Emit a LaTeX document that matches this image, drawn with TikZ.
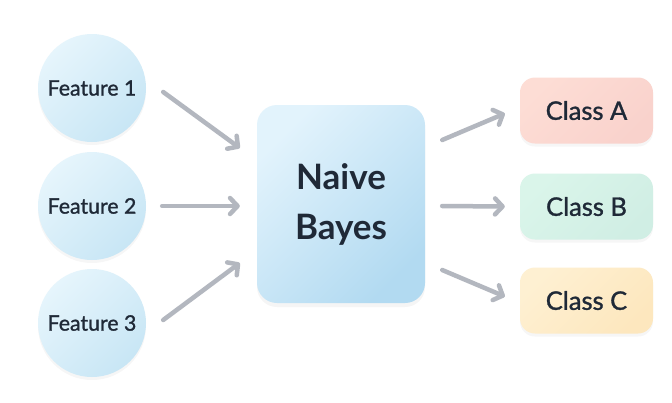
\documentclass[tikz,border=0pt]{standalone}
\usepackage{fontspec}
\setmainfont{Lato}
\newfontfamily\medfont[FakeBold=1.2]{Lato}
\usetikzlibrary{arrows.meta,shadows,calc}
\definecolor{ink}{HTML}{1F2937}
\definecolor{arrowgray}{HTML}{B3B7BF}
\definecolor{circA}{HTML}{E6F5FC}
\definecolor{circB}{HTML}{C8E6F5}
\definecolor{boxA}{HTML}{E2F3FC}
\definecolor{boxB}{HTML}{B2DAF1}
\definecolor{clsAa}{HTML}{FDDDD5}
\definecolor{clsAb}{HTML}{F9D2CC}
\definecolor{clsBa}{HTML}{DAF5EA}
\definecolor{clsBb}{HTML}{D0EEE4}
\definecolor{clsCa}{HTML}{FEF0D2}
\definecolor{clsCb}{HTML}{FDE7BE}
\tikzset{
  feat/.style={circle, minimum size=108pt, inner sep=0pt,
    left color=circA, right color=circB, shading angle=45,
    drop shadow={opacity=0.07, shadow xshift=0pt, shadow yshift=-3pt},
    font=\medfont\fontsize{21.3}{24}\selectfont, text=ink},
  core/.style={rounded corners=20pt, minimum width=168pt, minimum height=198pt, inner sep=0pt,
    left color=boxA, right color=boxB, shading angle=45,
    drop shadow={opacity=0.08, shadow xshift=0pt, shadow yshift=-4pt},
    font=\bfseries\fontsize{35}{50}\selectfont, text=ink, align=center},
  cls/.style={rounded corners=15pt, minimum width=133pt, minimum height=66pt, inner sep=0pt,
    drop shadow={opacity=0.07, shadow xshift=0pt, shadow yshift=-3pt},
    font=\medfont\fontsize{25.5}{28}\selectfont, text=ink},
  arr/.style={draw=arrowgray, line width=4.5pt, line cap=round, line join=round,
    -{Straight Barb[length=7.5pt, width=16pt, line cap=round, line join=round]}}
}
\begin{document}
\begin{tikzpicture}[x=1pt, y=-1pt]
\useasboundingbox (0,0) rectangle (672,402);
\fill[white] (0,0) rectangle (672,402);

\node[feat] (f1) at (92,88) {Feature 1};
\node[feat] (f2) at (92,206) {Feature 2};
\node[feat] (f3) at (92,323) {Feature 3};

\node[core] (nb) at (341,204) {Naive\\Bayes};

\node[cls, left color=clsAa, right color=clsAb, shading angle=45] (ca) at (586.5,110.5) {Class A};
\node[cls, left color=clsBa, right color=clsBb, shading angle=45] (cb) at (586.5,206.5) {Class B};
\node[cls, left color=clsCa, right color=clsCb, shading angle=45] (cc) at (586.5,300.5) {Class C};

\coordinate (s1) at ([shift={(17,4)}]f1.east);
\coordinate (s2) at ([shift={(16,0)}]f2.east);
\coordinate (s3) at ([shift={(17,-3)}]f3.east);
\coordinate (e1) at ([shift={(-17,-56)}]nb.west);
\coordinate (e2) at ([shift={(-17,2)}]nb.west);
\coordinate (e3) at ([shift={(-17,59)}]nb.west);

\coordinate (o1) at ([shift={(17,-64)}]nb.east);
\coordinate (o2) at ([shift={(17,2)}]nb.east);
\coordinate (o3) at ([shift={(17,66)}]nb.east);
\coordinate (t1) at ([shift={(-15,3)}]ca.west);
\coordinate (t2) at ([shift={(-15,0)}]cb.west);
\coordinate (t3) at ([shift={(-15,-4)}]cc.west);

\draw[arr] (s1) -- (e1);
\draw[arr] (s2) -- (e2);
\draw[arr] (s3) -- (e3);
\draw[arr] (o1) -- (t1);
\draw[arr] (o2) -- (t2);
\draw[arr] (o3) -- (t3);
\end{tikzpicture}
\end{document}
